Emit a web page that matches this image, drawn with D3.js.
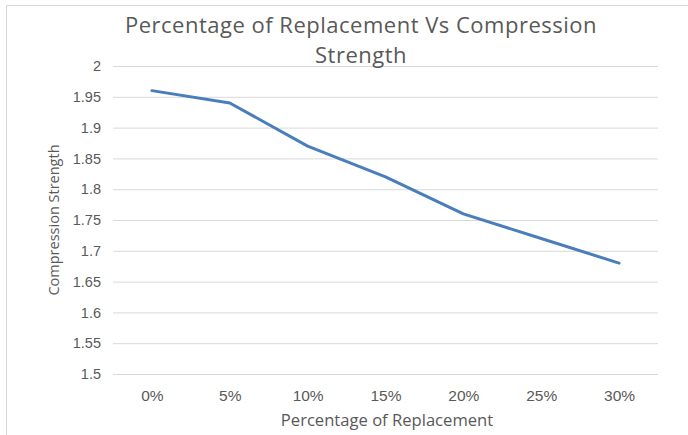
<!DOCTYPE html>
<html><head><meta charset="utf-8">
<script src="https://cdn.jsdelivr.net/npm/d3@7"></script>
<style>body{margin:0;background:#fff;} svg{display:block;font-family:"Open Sans",sans-serif;}</style>
</head><body>
<script>
const categories = ["0%","5%","10%","15%","20%","25%","30%"];
const values = [1.96,1.94,1.87,1.82,1.76,1.72,1.68];
const yTicks = [1.5,1.55,1.6,1.65,1.7,1.75,1.8,1.85,1.9,1.95,2];
const titleLines = ["Percentage of Replacement Vs Compression","Strength"];
const xTitle = "Percentage of Replacement";
const yTitle = "Compression Strength";

const W=688,H=435;
const svg=d3.select("body").append("svg").attr("width",W).attr("height",H);
svg.append("rect").attr("width",W).attr("height",H).attr("fill","#fff");
svg.append("path").attr("d","M6.5,"+H+"V5.5H"+W).attr("fill","none").attr("stroke","#d9d9d9").attr("stroke-width",1);

const m={l:113,r:658,t:66,b:374};
const x=d3.scalePoint().domain(categories).range([m.l,m.r]).padding(0.5);
const y=d3.scaleLinear().domain([1.5,2]).range([m.b,m.t]);

const yAxis=d3.axisLeft(y).tickValues(yTicks).tickSize(-(m.r-m.l)).tickPadding(12).tickFormat(d=>String(+d.toFixed(2)));
const gy=svg.append("g").attr("transform",`translate(${m.l},0)`).call(yAxis);
gy.select(".domain").remove();
gy.selectAll("line").attr("stroke","#d9d9d9").attr("stroke-width",1);
gy.selectAll("text").attr("fill","#595959").attr("font-size",14.5);

const xAxis=d3.axisBottom(x).tickSize(0).tickPadding(16);
const gx=svg.append("g").attr("transform",`translate(0,${m.b})`).call(xAxis);
gx.select(".domain").remove();
gx.selectAll("text").attr("fill","#595959").attr("font-size",15.5);

svg.append("path").datum(values)
 .attr("d",d3.line().x((d,i)=>x(categories[i])).y(d=>y(d)))
 .attr("fill","none").attr("stroke","#4a7ebb").attr("stroke-width",3).attr("stroke-linejoin","round").attr("stroke-linecap","round");

svg.append("g").selectAll("text").data(titleLines).join("text")
 .attr("x",361).attr("y",(d,i)=>33+i*30).attr("text-anchor","middle")
 .attr("fill","#595959").attr("font-size",22).attr("letter-spacing",0.5).text(d=>d);

svg.append("text").attr("x",387).attr("y",426).attr("text-anchor","middle")
 .attr("fill","#595959").attr("font-size",16.6).text(xTitle);
svg.append("text").attr("transform","translate(59,220) rotate(-90)").attr("text-anchor","middle")
 .attr("fill","#595959").attr("font-size",14.5).text(yTitle);
</script>
</body></html>
